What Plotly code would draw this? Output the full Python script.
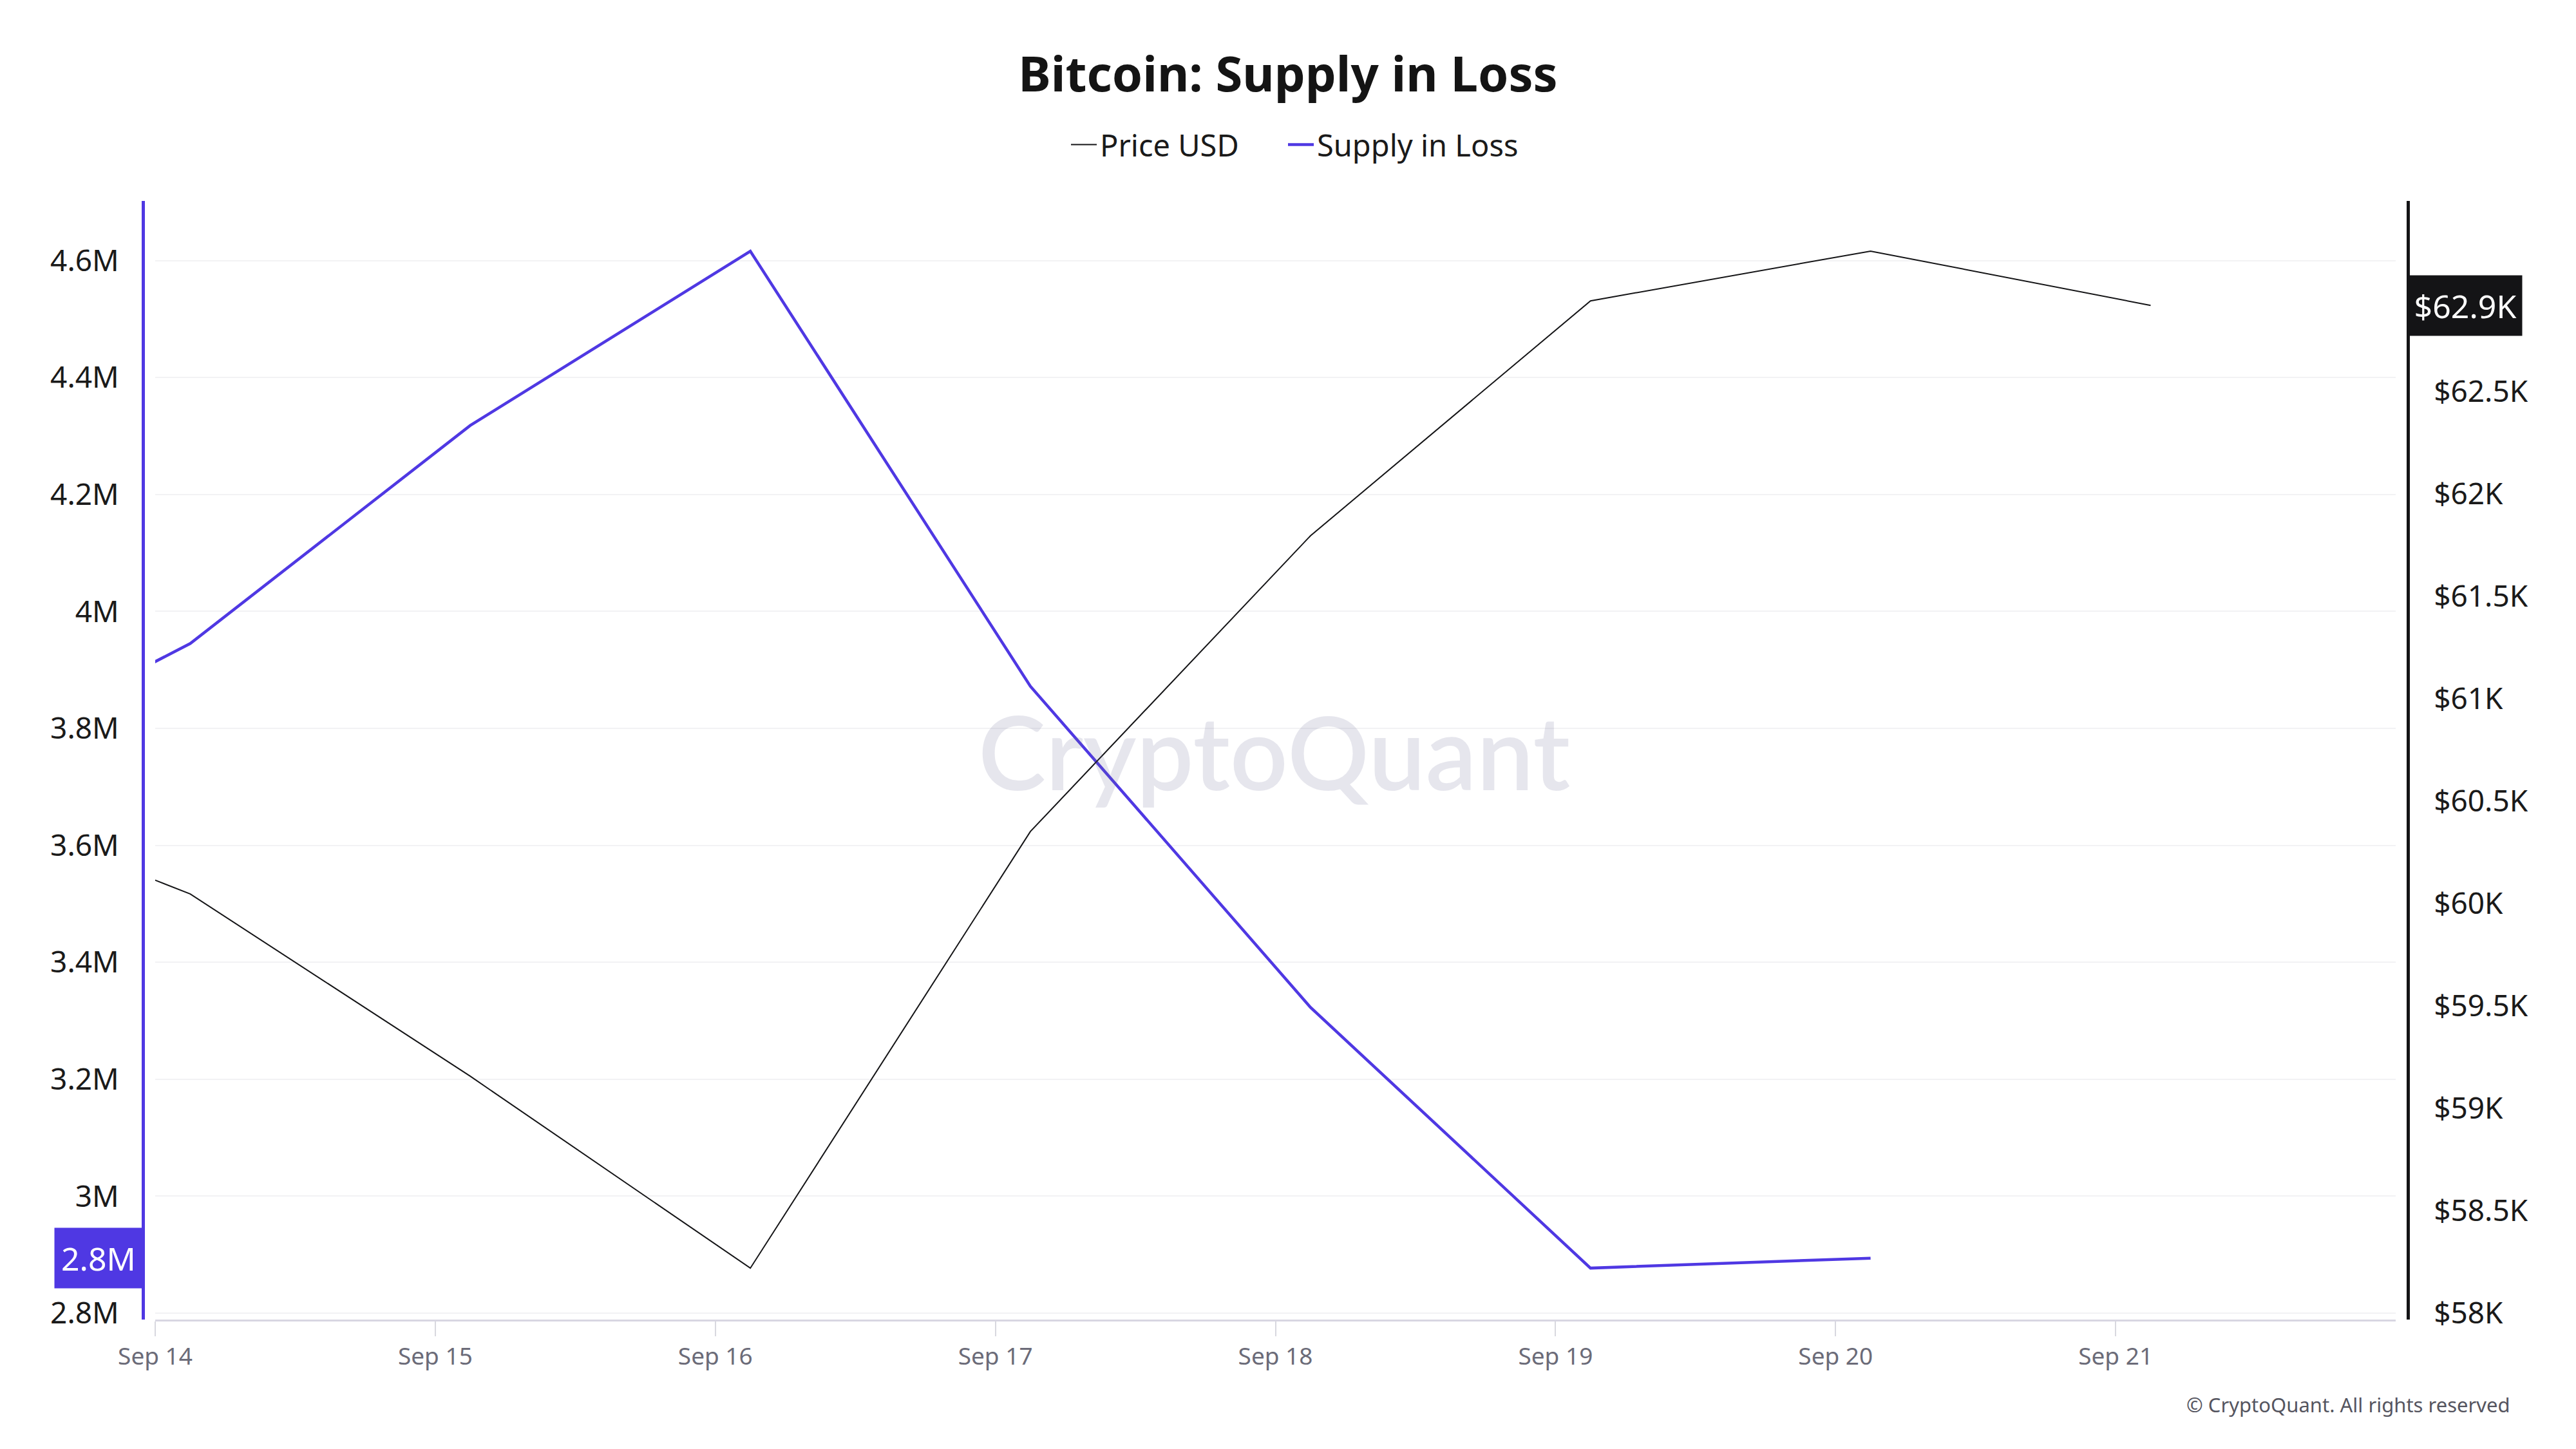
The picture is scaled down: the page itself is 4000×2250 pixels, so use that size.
import math
import plotly.graph_objects as go

# ---------------- data ----------------
dates = [
    "2024-09-13 03:00", "2024-09-14 03:00", "2024-09-15 03:00", "2024-09-16 03:00",
    "2024-09-17 03:00", "2024-09-18 03:00", "2024-09-19 03:00", "2024-09-20 03:00",
    "2024-09-21 03:00",
]
price_usd = [60585, 60047, 59157, 58220, 60352, 61796, 62943, 63186, 62921]
supply_in_loss = [3.698e6, 3.945e6, 4.318e6, 4.616e6, 3.872e6, 3.323e6, 2.877e6, 2.894e6, None]

supply_tickvals = [2.8e6, 3.0e6, 3.2e6, 3.4e6, 3.6e6, 3.8e6, 4.0e6, 4.2e6, 4.4e6, 4.6e6]
supply_ticktext = ["2.8M", "3M", "3.2M", "3.4M", "3.6M", "3.8M", "4M", "4.2M", "4.4M", "4.6M"]
price_tickvals = [58000, 58500, 59000, 59500, 60000, 60500, 61000, 61500, 62000, 62500]
price_ticktext = ["$58K", "$58.5K", "$59K", "$59.5K", "$60K", "$60.5K", "$61K", "$61.5K", "$62K", "$62.5K"]
x_tickvals = ["2024-09-14", "2024-09-15", "2024-09-16", "2024-09-17",
              "2024-09-18", "2024-09-19", "2024-09-20", "2024-09-21"]
x_ticktext = ["Sep 14", "Sep 15", "Sep 16", "Sep 17", "Sep 18", "Sep 19", "Sep 20", "Sep 21"]

# ---------------- style ----------------
PURPLE = "#4f38e3"
BLACK = "#141416"
FONT = "Noto Sans"

W, H = 4000, 2250
ML, MR, MT, MB = 222, 261, 312, 201
paper_w = W - ML - MR
paper_h = H - MT - MB
dom_l = (241 - ML) / paper_w
dom_r = (3720 - ML) / paper_w


def px_x(px):
    return (px - ML) / paper_w


def px_y(py):
    return (H - MB - py) / paper_h


fig = go.Figure()
fig.add_trace(go.Scatter(
    x=dates, y=price_usd, name="Price USD", mode="lines",
    line=dict(color=BLACK, width=2), yaxis="y2", legend="legend",
))
fig.add_trace(go.Scatter(
    x=dates, y=supply_in_loss, name="Supply in Loss", mode="lines",
    line=dict(color=PURPLE, width=4.5), yaxis="y", legend="legend2",
))

last_supply = [v for v in supply_in_loss if v is not None][-1]
last_price = price_usd[-1]
supply_label = f"{math.floor(last_supply / 1e5) / 10:g}M"
price_label = f"${round(last_price / 100) / 10:g}K"

legend_common = dict(
    orientation="h", xref="container", xanchor="left",
    yref="container", y=1 - 225 / H, yanchor="middle",
    font=dict(family=FONT, size=47, color="#1a1a1a"),
    itemwidth=40, bgcolor="rgba(0,0,0,0)",
)

fig.update_layout(
    width=W, height=H,
    margin=dict(l=ML, r=MR, t=MT, b=MB),
    paper_bgcolor="white", plot_bgcolor="white",
    font=dict(family=FONT, color="#1a1a1a"),
    showlegend=True,
    title=dict(
        text="<b>Bitcoin: Supply in Loss</b>",
        x=0.5, xref="container", xanchor="center",
        y=1 - 115 / H, yref="container", yanchor="middle",
        font=dict(family=FONT, size=76, color="#141414"),
    ),
    legend=dict(x=1658 / W, **legend_common),
    legend2=dict(x=1995 / W, **legend_common),
    xaxis=dict(
        type="date", domain=[dom_l, dom_r],
        range=["2024-09-14 00:00", "2024-09-22 00:00"],
        tickvals=x_tickvals, ticktext=x_ticktext,
        showgrid=False, zeroline=False,
        showline=True, linecolor="#d8d6e2", linewidth=3,
        ticks="outside", ticklen=23, tickwidth=2, tickcolor="#d8d8df",
        tickfont=dict(family=FONT, size=37, color="#6b6b78"),
    ),
    yaxis=dict(
        range=[2.789e6, 4.702e6], anchor="free", position=0, side="left",
        tickvals=supply_tickvals, ticktext=supply_ticktext,
        showgrid=True, gridcolor="#f2f2f4", gridwidth=2, zeroline=False,
        showline=True, linecolor=PURPLE, linewidth=5,
        ticks="", ticklabelstandoff=26,
        tickfont=dict(family=FONT, size=46, color="#1a1a1a"),
    ),
    yaxis2=dict(
        range=[57969, 63431], anchor="free", position=1, side="right",
        overlaying="y",
        tickvals=price_tickvals, ticktext=price_ticktext,
        showgrid=False, zeroline=False,
        showline=True, linecolor=BLACK, linewidth=5,
        ticks="", ticklabelstandoff=28,
        tickfont=dict(family=FONT, size=46, color="#1a1a1a"),
    ),
    annotations=[
        dict(  # watermark
            text="CryptoQuant", xref="paper", yref="paper",
            x=px_x(1978), y=px_y(1166),
            xanchor="center", yanchor="middle", showarrow=False,
            font=dict(family="Lato", size=158, color="rgba(105,105,150,0.17)", weight=600),
        ),
        dict(  # left last-value badge
            text=supply_label, xref="paper", yref="y", x=0, y=last_supply,
            xanchor="right", yanchor="middle", showarrow=False,
            bgcolor=PURPLE, borderpad=4, width=128, height=85,
            font=dict(family=FONT, size=50, color="white"),
        ),
        dict(  # right last-value badge
            text=price_label, xref="paper", yref="y2", x=1, y=last_price,
            xanchor="left", yanchor="middle", showarrow=False,
            bgcolor=BLACK, borderpad=4, width=168, height=85,
            font=dict(family=FONT, size=50, color="white"),
        ),
        dict(  # copyright
            text="© CryptoQuant. All rights reserved", xref="paper", yref="paper",
            x=px_x(3900), y=px_y(2181), xanchor="right", yanchor="middle", showarrow=False,
            font=dict(family=FONT, size=31, color="#55555f"),
        ),
    ],
)

fig.write_html("out.html")
